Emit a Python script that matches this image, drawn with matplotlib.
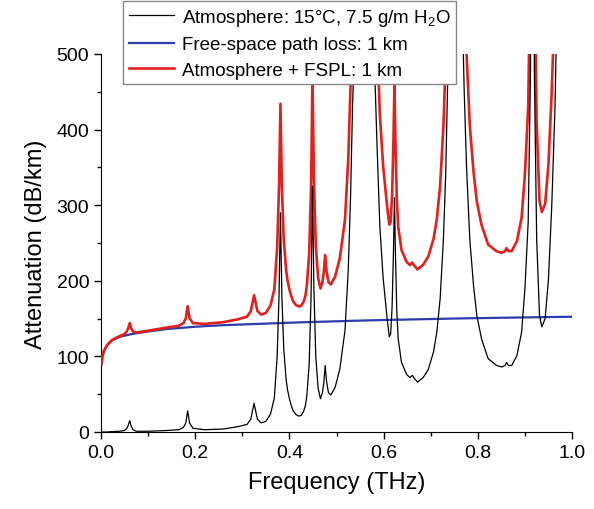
import numpy as np
import matplotlib
matplotlib.use("Agg")
import matplotlib.pyplot as plt
from matplotlib.ticker import MultipleLocator

plt.rcParams['font.family'] = ['Liberation Sans', 'DejaVu Sans']
plt.rcParams['mathtext.fontset'] = 'custom'
plt.rcParams['mathtext.rm'] = 'Liberation Sans'
plt.rcParams['mathtext.default'] = 'regular'

# frequency grid (THz)
freq = [0.001, 0.003, 0.006, 0.013, 0.023, 0.04, 0.05, 0.055, 0.058, 0.061,
        0.064, 0.068, 0.075, 0.1, 0.14, 0.165, 0.175, 0.18, 0.184, 0.188,
        0.195, 0.22, 0.26, 0.29, 0.31, 0.318, 0.325, 0.332, 0.34, 0.35,
        0.36, 0.368, 0.374, 0.378, 0.381, 0.384, 0.388, 0.393, 0.396, 0.4,
        0.404, 0.408, 0.414, 0.42, 0.425, 0.43, 0.434, 0.437, 0.442, 0.446,
        0.449, 0.452, 0.456, 0.461, 0.466, 0.47, 0.473, 0.476, 0.479, 0.483,
        0.488, 0.497, 0.507, 0.518, 0.525, 0.53, 0.534, 0.539, 0.557, 0.578,
        0.582, 0.586, 0.592, 0.599, 0.607, 0.612, 0.615, 0.618, 0.621, 0.623,
        0.625, 0.628, 0.631, 0.638, 0.649, 0.656, 0.661, 0.664, 0.672, 0.684,
        0.695, 0.706, 0.713, 0.72, 0.727, 0.732, 0.736, 0.74, 0.752, 0.767,
        0.771, 0.776, 0.783, 0.791, 0.798, 0.808, 0.822, 0.84, 0.851, 0.858,
        0.861, 0.865, 0.872, 0.883, 0.893, 0.9, 0.907, 0.912, 0.916, 0.92,
        0.925, 0.931, 0.936, 0.943, 0.95, 0.957, 0.964, 0.968, 0.98, 1.0]

# atmospheric attenuation, 15 C, 7.5 g/m3 water vapour (dB/km)
atmosphere = [0, 0, 0, 0, 0.5, 1, 2, 5, 9, 15,
              8, 3, 1, 1, 2, 3, 6, 12, 28, 12,
              5, 3, 4, 7, 10, 17, 38, 17, 12, 14,
              24, 45, 100, 180, 290, 180, 110, 70, 56, 44,
              35, 28, 23, 21, 22, 27, 35, 48, 90, 180,
              325, 190, 100, 58, 44, 52, 65, 88, 66, 52,
              49, 59, 83, 134, 215, 315, 430, 530, 1500, 560,
              460, 380, 272, 204, 153, 126, 130, 165, 240, 310,
              240, 160, 123, 92, 76, 72, 75, 72, 66, 72,
              83, 106, 132, 176, 255, 344, 463, 560, 1500, 560,
              454, 352, 255, 193, 154, 123, 97, 88, 86, 88,
              92, 88, 88, 101, 132, 189, 278, 483, 1500, 480,
              255, 154, 139, 150, 202, 299, 431, 560, 1200, 1200]

# free-space path loss over 1 km (dB)
fspl = [90, 100, 107, 115, 121, 126, 127.5, 128.3, 128.7, 129,
        129.4, 129.8, 130.6, 133, 136.2, 137.5, 138, 138.2, 138.4, 138.6,
        139, 140, 141.3, 142, 142.5, 142.7, 142.9, 143.1, 143.3, 143.5,
        143.7, 143.9, 144, 144.1, 144.2, 144.3, 144.4, 144.5, 144.5, 144.6,
        144.7, 144.8, 144.9, 145, 145.1, 145.2, 145.2, 145.3, 145.4, 145.5,
        145.6, 145.6, 145.7, 145.8, 145.9, 146, 146, 146.1, 146.1, 146.2,
        146.3, 146.5, 146.6, 146.8, 146.9, 147, 147.1, 147.2, 147.5, 147.8,
        147.9, 147.9, 148, 148.1, 148.2, 148.3, 148.3, 148.4, 148.4, 148.4,
        148.5, 148.5, 148.5, 148.6, 148.8, 148.9, 149, 149, 149.1, 149.2,
        149.4, 149.5, 149.6, 149.7, 149.8, 149.8, 149.9, 149.9, 150.1, 150.3,
        150.3, 150.4, 150.5, 150.5, 150.6, 150.7, 150.9, 151, 151.1, 151.2,
        151.2, 151.3, 151.3, 151.4, 151.5, 151.6, 151.6, 151.7, 151.7, 151.8,
        151.8, 151.9, 151.9, 152, 152, 152.1, 152.1, 152.2, 152.3, 152.4]

total = np.array(atmosphere) + np.array(fspl)

fig = plt.figure(figsize=(5.94, 5.10), dpi=100)
ax = fig.add_axes([101 / 594, 1 - 433 / 510, 471 / 594, 378 / 510])

ax.plot(freq, fspl, color='#2b3cae', lw=1.6, zorder=2,
        label='Free-space path loss: 1 km')
ax.plot(freq, total, color='#e3201b', lw=1.9, zorder=3,
        label='Atmosphere + FSPL: 1 km')
ax.plot(freq, atmosphere, color='black', lw=0.9, zorder=4,
        label=r'Atmosphere: 15°C, 7.5 g/m H$_2$O')

ax.set_xlim(0, 1.0)
ax.set_ylim(0, 500)
ax.xaxis.set_major_locator(MultipleLocator(0.2))
ax.xaxis.set_minor_locator(MultipleLocator(0.1))
ax.yaxis.set_major_locator(MultipleLocator(100))
ax.yaxis.set_minor_locator(MultipleLocator(50))
ax.set_xticklabels([f'{t:.1f}' for t in ax.get_xticks()])
ax.tick_params(which='major', direction='out', length=5, width=1, labelsize=14)
ax.tick_params(which='minor', direction='out', length=3, width=1)
for s in ['top', 'right']:
    ax.spines[s].set_visible(False)

ax.set_xlabel('Frequency (THz)', fontsize=17, labelpad=7)
ax.set_ylabel('Attenuation (dB/km)', fontsize=17, labelpad=7)

handles, labels = ax.get_legend_handles_labels()
order = [2, 0, 1]
fig.legend([handles[i] for i in order], [labels[i] for i in order],
           loc='upper left', bbox_to_anchor=(123 / 594, 1 - 2 / 510),
           fontsize=13.5, frameon=True, fancybox=False, edgecolor='#888888',
           framealpha=1, handlelength=2.4, borderpad=0.3, labelspacing=0.45,
           handletextpad=0.45, borderaxespad=0)

fig.savefig('out.png', dpi=100)
